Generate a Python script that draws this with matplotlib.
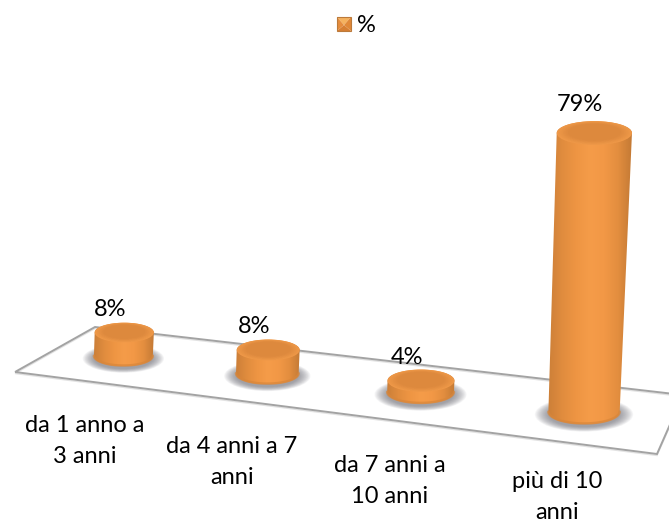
import numpy as np
import matplotlib
matplotlib.use('Agg')
import matplotlib.pyplot as plt
from matplotlib.colors import LinearSegmentedColormap, to_rgb
from matplotlib.patches import Ellipse, Polygon, Rectangle

plt.rcParams['font.family'] = ['Lato', 'DejaVu Sans']

# dati
categories = ['da 1 anno a\n3 anni', 'da 4 anni a 7\nanni', 'da 7 anni a\n10 anni', 'più di 10\nanni']
values = [8, 8, 4, 79]
value_labels = ['8%', '8%', '4%', '79%']
series_name = '%'

# vertici del pavimento in pixel: sin-fronte, des-fronte, des-fondo, sin-fondo
FLOOR = [(15, 372), (657, 454), (683, 395), (95, 327)]
LABEL_X = [85, 232, 390, 557]
LABEL_Y = [441, 462, 481, 497]
FONT_SIZE = 17

ORANGE = LinearSegmentedColormap.from_list('arancio', [
    '#cc7f38', '#e08c3e', '#ee9543', '#f59c49', '#f29846', '#e38e3f', '#c47a35'])


def homography(corners):
    # mappa il quadrato unitario (u, v) sui quattro vertici
    src = [(0, 0), (1, 0), (1, 1), (0, 1)]
    A, b = [], []
    for (u, v), (x, y) in zip(src, corners):
        A.append([u, v, 1, 0, 0, 0, -u * x, -v * x])
        A.append([0, 0, 0, u, v, 1, -u * y, -v * y])
        b += [x, y]
    return np.append(np.linalg.solve(np.array(A, float), np.array(b, float)), 1).reshape(3, 3)


H = homography(FLOOR)


def floor_point(pos, depth=0.5):
    # pos = posizione categoria (0..n), depth = profondita' sul pavimento
    p = H @ np.array([pos / len(values), depth, 1.0])
    return p[:2] / p[2]


def bar_height(v):
    # l'altezza cresce un po' di piu' verso l'alto per la prospettiva
    return 2.95 * v / (1 - 0.0021 * v)


fig = plt.figure(figsize=(6.69, 5.24), dpi=100)
ax = fig.add_axes([0, 0, 1, 1])

# bordo del pavimento
ax.add_patch(Polygon(FLOOR, closed=True, fill=False, ec='#a3a3a3', lw=1.4, zorder=1))
ax.add_patch(Polygon(np.array(FLOOR) + [0, 1.5], closed=True, fill=False, ec='#e2e2e2', lw=1, zorder=0.9))

for i, (v, txt) in enumerate(zip(values, value_labels)):
    pos = 0.485 + i * 1.003
    bx, by = floor_point(pos)
    left, right = floor_point(pos - 0.21), floor_point(pos + 0.21)
    rx = np.hypot(*(right - left)) / 2
    ry = rx / 3
    h = bar_height(v)
    tx, ty = bx + 0.037 * h, by - h
    rx_top = rx * (1 + 0.0002 * h)

    # ombra sfumata sotto il cilindro
    for k in np.linspace(1.38, 1.0, 16):
        ax.add_patch(Ellipse((bx, by + 2), 2 * rx * k, 2 * ry * k * 1.05, fc='#70707a',
                             ec='none', alpha=0.06, zorder=2))

    # corpo del cilindro con sfumatura orizzontale
    th = np.linspace(np.pi, 0, 40)
    bottom = np.column_stack([bx - rx * np.cos(th), by + ry * np.sin(th)])
    top = np.column_stack([tx + rx_top * np.cos(th), ty - ry * np.sin(th)])
    body = Polygon(np.vstack([bottom, top]), closed=True, fc='none', ec='none', zorder=3)
    ax.add_patch(body)
    xmin, xmax = min(bx - rx, tx - rx_top), max(bx + rx, tx + rx_top)
    img = ax.imshow(np.linspace(0, 1, 256).reshape(1, -1), cmap=ORANGE, aspect='auto',
                    extent=(xmin, xmax, by + ry, ty - ry), zorder=3)
    img.set_clip_path(body)

    # bordo inferiore piu' scuro
    ax.plot(bottom[:, 0], bottom[:, 1] - 0.8, color='#d8863a', lw=1.8, alpha=0.7, zorder=3.2,
            solid_capstyle='round')

    # faccia superiore: passaggio graduale dal bordo chiaro al centro
    rim, inner = np.array(to_rgb('#ee9848')), np.array(to_rgb('#dd893d'))
    for t in np.linspace(0, 1, 8):
        s = 1 - 0.3 * t
        ax.add_patch(Ellipse((tx, ty - 0.8 * t), 2 * rx_top * s, 2 * ry * s,
                             fc=rim + (inner - rim) * t, ec='none', zorder=4 + 0.01 * t))

    # etichetta del valore
    ax.text(tx - 14, ty - 22.5 - 0.08 * v, txt, ha='center', va='center', fontsize=FONT_SIZE,
            color='black', zorder=6)

# etichette delle categorie
for name, x, y in zip(categories, LABEL_X, LABEL_Y):
    ax.text(x, y, name, ha='center', va='center', fontsize=FONT_SIZE, color='black',
            linespacing=1.6, zorder=6)

# legenda
sx0, sx1, sy0, sy1 = 337, 351, 17, 31
cx, cy = (sx0 + sx1) / 2, 25
ax.add_patch(Polygon([(sx0, sy0), (sx1, sy0), (cx, cy)], fc='#f5b25f', ec='none'))
ax.add_patch(Polygon([(sx0, sy1), (sx1, sy1), (cx, cy)], fc='#d67f33', ec='none'))
ax.add_patch(Polygon([(sx0, sy0), (sx0, sy1), (cx, cy)], fc='#e58c3d', ec='none'))
ax.add_patch(Polygon([(sx1, sy0), (sx1, sy1), (cx, cy)], fc='#e08838', ec='none'))
ax.add_patch(Rectangle((sx0, sy0), sx1 - sx0, sy1 - sy0, fill=False, ec='#bc7a3a', lw=0.8))
ax.text(366, 25.5, series_name, ha='center', va='center', fontsize=FONT_SIZE, color='black')

ax.set_xlim(0, 669)
ax.set_ylim(524, 0)
ax.axis('off')

fig.savefig('out.png', dpi=100, facecolor='white')
